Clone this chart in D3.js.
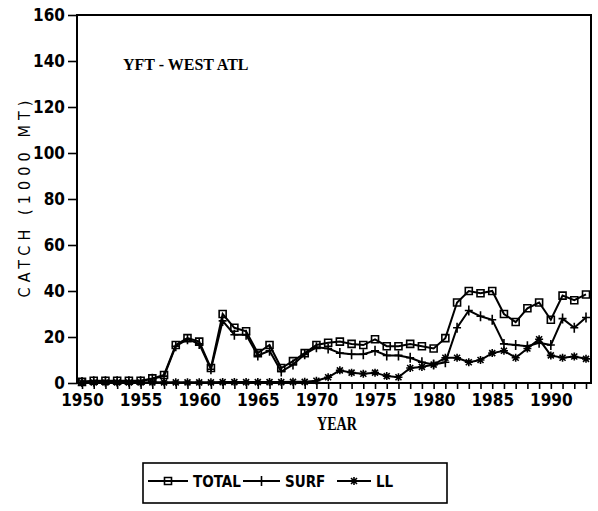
<!DOCTYPE html>
<html>
<head>
<meta charset="utf-8">
<script src="https://cdn.jsdelivr.net/npm/d3@7"></script>
<style>
  body { margin: 0; background: #fff; }
  .tick text { font-family: "DejaVu Sans Condensed", "DejaVu Sans", sans-serif; font-stretch: condensed; font-weight: bold; font-size: 17px; fill: #000; }
  .tick line { stroke: #000; stroke-width: 1.6; }
</style>
</head>
<body>
<div class="chart-container"></div>
<script>
//! CONSTS
const WIDTH = 598;
const HEIGHT = 511;
const LEFT = 77, RIGHT = 591, TOP = 15, BOTTOM = 383;

//! DATA (1000 MT)
const YEARS = d3.range(1950, 1994);
const TOTAL = [0.5, 1, 1, 1, 1, 1, 2, 3.5, 16.5, 19.5, 18, 6.5, 30, 24, 22.5, 13, 16.5, 6.5, 9.5, 13,
  16.5, 17.5, 18, 17, 16.5, 19, 16, 16, 17, 16, 15, 19.5, 35, 40, 39, 40, 30, 26.5, 32.5, 35,
  27.5, 38, 36, 38.5];
const SURF = [0.4, 0.8, 0.8, 0.8, 0.8, 0.8, 1.8, 3, 16, 19, 17, 6, 27, 21, 21, 12, 14, 5, 8, 12.5,
  15.5, 15, 13, 12.5, 12.5, 14, 12, 12, 11, 9, 8, 9, 24, 31.5, 29, 27.5, 17, 16.5, 16, 17.5,
  16.5, 28, 24, 28.5];
const LL = [0.2, 0.2, 0.2, 0.2, 0.2, 0.2, 0.3, 0.3, 0.3, 0.3, 0.3, 0.3, 0.4, 0.4, 0.4, 0.4, 0.4, 0.4, 0.5, 0.5,
  1, 2.5, 5.5, 4.5, 4, 4.5, 3, 2.5, 6.5, 7, 8, 11, 11, 9, 10, 13, 14, 11, 15, 19,
  12, 11, 11.5, 10.5];
const Y_TICKS = [0, 20, 40, 60, 80, 100, 120, 140, 160];
const X_LABELS = [1950, 1955, 1960, 1965, 1970, 1975, 1980, 1985, 1990];

const SERIES = [
  { name: 'TOTAL', values: TOTAL, marker: 'square' },
  { name: 'SURF', values: SURF, marker: 'plus' },
  { name: 'LL', values: LL, marker: 'star' }
];

//! SVG
const svg = d3.select('.chart-container')
  .append('svg')
  .attr('width', WIDTH)
  .attr('height', HEIGHT)
  .style('font-family', '"DejaVu Sans Condensed", "DejaVu Sans", sans-serif');

//! SCALES
const x = d3.scaleLinear().domain([1950, 1993]).range([82, 586]);
const y = d3.scaleLinear().domain([0, 160]).range([BOTTOM, TOP]);

// markers
const markerPath = (type, s) => {
  if (type === 'square') return `M${-s},${-s}H${s}V${s}H${-s}Z`;
  if (type === 'plus') return `M${-s},0H${s}M0,${-s - 1}V${s + 1}`;
  const d = s * 0.75;
  return `M${-s},0H${s}M0,${-s}V${s}M${-d},${-d}L${d},${d}M${-d},${d}L${d},${-d}`;
};

//! AXES
svg.append('g')
  .attr('transform', `translate(${LEFT},0)`)
  .call(d3.axisLeft(y).tickValues(Y_TICKS).tickSize(9).tickPadding(3))
  .call(g => g.select('.domain').remove());

svg.append('g')
  .attr('transform', `translate(0,${BOTTOM})`)
  .call(d3.axisBottom(x)
    .tickValues(YEARS)
    .tickSize(6)
    .tickPadding(5)
    .tickFormat(d => X_LABELS.includes(d) ? d : ''))
  .call(g => g.select('.domain').remove());

// frame
svg.append('rect')
  .attr('x', LEFT)
  .attr('y', TOP)
  .attr('width', RIGHT - LEFT)
  .attr('height', BOTTOM - TOP)
  .attr('fill', 'none')
  .attr('stroke', '#000')
  .attr('stroke-width', 2);

//! LINES
const line = d3.line()
  .x((d, i) => x(YEARS[i]))
  .y(d => y(d));

SERIES.forEach(s => {
  const g = svg.append('g').attr('class', 'series');
  g.append('path')
    .datum(s.values)
    .attr('d', line)
    .attr('fill', 'none')
    .attr('stroke', '#000')
    .attr('stroke-width', 2);
  g.selectAll('path.mark')
    .data(s.values)
    .enter()
    .append('path')
    .attr('class', 'mark')
    .attr('transform', (d, i) => `translate(${x(YEARS[i])},${y(d)})`)
    .attr('d', markerPath(s.marker, s.marker === 'square' ? 3.5 : 4))
    .attr('fill', 'none')
    .attr('stroke', '#000')
    .attr('stroke-width', 1.6);
});

//! TEXT
svg.append('text')
  .attr('x', 123)
  .attr('y', 70)
  .attr('font-family', '"Liberation Serif", serif')
  .attr('font-weight', 'bold')
  .attr('font-size', 16)
  .text('YFT - WEST ATL');

svg.append('text')
  .attr('x', 337)
  .attr('y', 430)
  .attr('text-anchor', 'middle')
  .attr('font-family', '"Liberation Serif", serif')
  .attr('font-weight', 'bold')
  .attr('font-size', 19)
  .attr('textLength', 40)
  .attr('lengthAdjust', 'spacingAndGlyphs')
  .text('YEAR');

svg.append('text')
  .attr('transform', 'translate(30,199) rotate(-90)')
  .attr('text-anchor', 'middle')
  .attr('font-size', 16)
  .attr('textLength', 197)
  .attr('lengthAdjust', 'spacing')
  .text('CATCH (1000 MT)');

//! LEGEND
const legend = svg.append('g').attr('id', 'legend');
legend.append('rect')
  .attr('x', 143)
  .attr('y', 463)
  .attr('width', 304)
  .attr('height', 40)
  .attr('fill', 'none')
  .attr('stroke', '#000')
  .attr('stroke-width', 1.6);

const LEG_X = [148, 243, 337];
const LEG_W = [40, 37, 34];
SERIES.forEach((s, i) => {
  const cx = LEG_X[i] + LEG_W[i] / 2;
  legend.append('line')
    .attr('x1', LEG_X[i]).attr('x2', LEG_X[i] + LEG_W[i])
    .attr('y1', 481).attr('y2', 481)
    .attr('stroke', '#000').attr('stroke-width', 2);
  legend.append('path')
    .attr('transform', `translate(${cx},481)`)
    .attr('d', markerPath(s.marker, s.marker === 'square' ? 3.5 : 4))
    .attr('fill', 'none')
    .attr('stroke', '#000')
    .attr('stroke-width', 1.6);
  legend.append('text')
    .attr('x', LEG_X[i] + LEG_W[i] + 5)
    .attr('y', 487)
    .attr('font-weight', 'bold')
    .attr('font-size', 15)
    .attr('font-stretch', 'condensed')
    .text(s.name);
});
</script>
</body>
</html>
